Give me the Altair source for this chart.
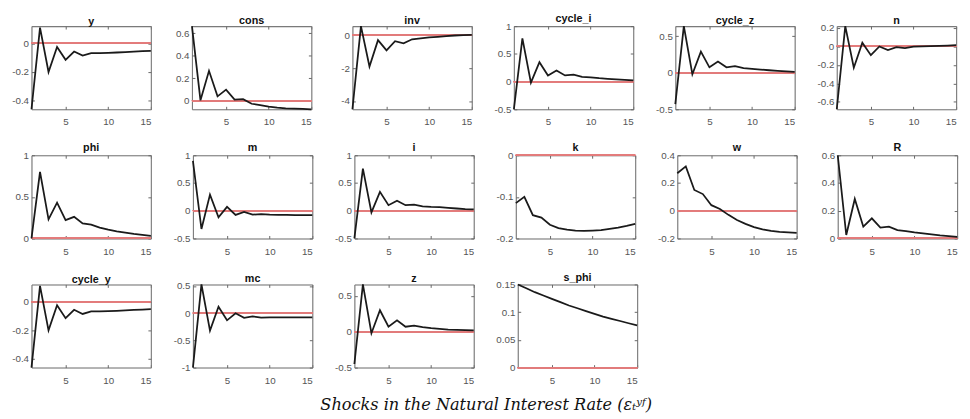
import altair as alt
import pandas as pd

periods = [1, 2, 3, 4, 5, 6, 7, 8, 9, 10, 11, 12, 13, 14, 15]

names = ["y", "cons", "inv", "cycle_i", "cycle_z", "n",
         "phi", "m", "i", "k", "w", "R",
         "cycle_y", "mc", "z", "s_phi"]

y_vals = [-0.46, 0.11, -0.20, -0.025, -0.115, -0.057, -0.086, -0.068, -0.068, -0.066, -0.064, -0.061, -0.058, -0.055, -0.052]
cons_vals = [0.665, 0.005, 0.267, 0.04, 0.10, 0.012, 0.015, -0.026, -0.038, -0.052, -0.060, -0.066, -0.069, -0.072, -0.075]
inv_vals = [-4.5, 0.55, -1.9, -0.3, -0.92, -0.37, -0.49, -0.25, -0.20, -0.14, -0.10, -0.06, -0.02, 0.0, 0.02]
cycle_i_vals = [-0.5, 0.78, -0.02, 0.35, 0.11, 0.20, 0.11, 0.125, 0.085, 0.075, 0.06, 0.05, 0.04, 0.03, 0.02]
cycle_z_vals = [-0.43, 0.64, -0.02, 0.29, 0.075, 0.155, 0.075, 0.09, 0.065, 0.055, 0.045, 0.035, 0.027, 0.02, 0.013]
n_vals = [-0.68, 0.22, -0.23, 0.04, -0.095, 0.0, -0.04, -0.007, -0.017, -0.003, 0.0, 0.003, 0.007, 0.01, 0.013]
phi_vals = [0.0, 0.80, 0.23, 0.43, 0.22, 0.26, 0.18, 0.165, 0.13, 0.105, 0.085, 0.07, 0.055, 0.043, 0.03]
m_vals = [0.90, -0.33, 0.29, -0.12, 0.07, -0.075, -0.023, -0.07, -0.06, -0.07, -0.075, -0.075, -0.08, -0.08, -0.08]
i_vals = [-0.5, 0.76, -0.03, 0.34, 0.10, 0.18, 0.10, 0.11, 0.08, 0.07, 0.065, 0.053, 0.04, 0.03, 0.025]
k_vals = [-0.115, -0.10, -0.144, -0.15, -0.167, -0.175, -0.179, -0.181, -0.182, -0.181, -0.18, -0.177, -0.174, -0.17, -0.165]
w_vals = [0.27, 0.32, 0.15, 0.12, 0.04, 0.012, -0.03, -0.067, -0.095, -0.118, -0.135, -0.146, -0.153, -0.157, -0.16]
R_vals = [0.60, 0.025, 0.285, 0.085, 0.145, 0.078, 0.085, 0.06, 0.053, 0.043, 0.036, 0.029, 0.022, 0.017, 0.012]
cycle_y_vals = [-0.46, 0.11, -0.20, -0.025, -0.115, -0.057, -0.086, -0.068, -0.068, -0.066, -0.064, -0.061, -0.058, -0.055, -0.052]
mc_vals = [-1.0, 0.53, -0.32, 0.12, -0.13, 0.0, -0.085, -0.06, -0.08, -0.075, -0.075, -0.075, -0.075, -0.075, -0.075]
z_vals = [-0.45, 0.66, -0.02, 0.30, 0.07, 0.16, 0.07, 0.085, 0.065, 0.05, 0.04, 0.03, 0.027, 0.023, 0.018]
s_phi_vals = [0.150, 0.143, 0.136, 0.130, 0.124, 0.118, 0.112, 0.107, 0.102, 0.097, 0.092, 0.088, 0.084, 0.080, 0.076]

series = [y_vals, cons_vals, inv_vals, cycle_i_vals, cycle_z_vals, n_vals,
          phi_vals, m_vals, i_vals, k_vals, w_vals, R_vals,
          cycle_y_vals, mc_vals, z_vals, s_phi_vals]

y_domains = [[-0.46, 0.12], [-0.075, 0.665], [-4.5, 0.55], [-0.5, 1], [-0.5, 0.64], [-0.68, 0.22],
             [0, 1], [-0.5, 1], [-0.5, 1], [-0.2, 0], [-0.2, 0.4], [0, 0.6],
             [-0.46, 0.12], [-1, 0.53], [-0.5, 0.66], [0, 0.15]]

y_ticks = [[-0.4, -0.2, 0], [0, 0.2, 0.4, 0.6], [-4, -2, 0], [-0.5, 0, 0.5, 1], [-0.5, 0, 0.5], [-0.6, -0.4, -0.2, 0, 0.2],
           [0, 0.5, 1], [-0.5, 0, 0.5, 1], [-0.5, 0, 0.5, 1], [-0.2, -0.1, 0], [-0.2, 0, 0.2, 0.4], [0, 0.2, 0.4, 0.6],
           [-0.4, -0.2, 0], [-1, -0.5, 0, 0.5], [-0.5, 0, 0.5], [0, 0.05, 0.1, 0.15]]

x_ticks = [5, 10, 15]
caption = "Shocks in the Natural Interest Rate (\u03b5\u209c\u02b8\u1da0)"

RED = "#e27b7b"
FRAME = "#7a7a7a"
W, H = 122, 85


def frame_axis(orient):
    return alt.Axis(orient=orient, domain=True, domainColor=FRAME, domainWidth=1.1, domainOpacity=1,
                    ticks=False, labels=False, grid=False, title=None, minExtent=0, maxExtent=0)


def tick_axis(orient, values, labels, ext, pad):
    kw = dict(orient=orient, values=values, labels=labels, domain=False, grid=False,
              ticks=True, tickSize=3, tickColor="#666", tickWidth=1, tickOpacity=1,
              offset=-3, title=None, minExtent=ext, maxExtent=ext)
    if labels:
        kw["labelPadding"] = pad
        kw["labelExpr"] = "datum.value + ''"
    return alt.Axis(**kw)


def panel(name, vals, dom, ticks):
    df = pd.DataFrame({"t": periods, "v": vals})
    xs = alt.Scale(domain=[1, 15], nice=False, zero=False)
    ys = alt.Scale(domain=dom, nice=False, zero=False)
    base = alt.Chart(df)

    def ghost(xa, ya):
        return base.mark_line(strokeOpacity=0).encode(
            x=alt.X("t:Q", scale=xs, axis=xa),
            y=alt.Y("v:Q", scale=ys, axis=ya),
        )

    zero = base.mark_rule(color=RED, strokeWidth=1.3).encode(
        y=alt.YDatum(0, type="quantitative", scale=ys, axis=None)
    )
    frame_tr = ghost(frame_axis("top"), frame_axis("right"))
    frame_bl = ghost(frame_axis("bottom"), frame_axis("left"))
    ticks_tr = ghost(tick_axis("top", x_ticks, False, 0, 0), tick_axis("right", ticks, False, 0, 0))
    line = base.mark_line(color="#1a1a1a", strokeWidth=1.8).encode(
        x=alt.X("t:Q", scale=xs, axis=tick_axis("bottom", x_ticks, True, 16, 8)),
        y=alt.Y("v:Q", scale=ys, axis=tick_axis("left", ticks, True, 22, 3)),
    )
    return alt.layer(zero, frame_tr, frame_bl, ticks_tr, line).resolve_axis(
        x="independent", y="independent"
    ).properties(
        width=W, height=H,
        title=alt.TitleParams(name, fontSize=11, fontWeight="bold", font="Liberation Sans",
                              color="#111", offset=-3),
    )


panels = [panel(n, v, d, t) for n, v, d, t in zip(names, series, y_domains, y_ticks)]

rows = [alt.hconcat(*panels[0:6], spacing=17),
        alt.hconcat(*panels[6:12], spacing=17),
        alt.hconcat(*panels[12:16], spacing=17)]

chart = alt.vconcat(*rows, spacing=14).properties(
    title=alt.TitleParams(caption, orient="bottom", anchor="middle", font="DejaVu Serif",
                          fontStyle="italic", fontWeight="normal", fontSize=16.5, color="#111", offset=12),
    padding={"left": 3, "top": 0, "right": 0, "bottom": 0},
).configure_axis(
    labelFont="Liberation Sans", labelFontSize=10, labelColor="#555"
)

chart.save("out.html", embed_options={"renderer": "svg", "actions": False})
